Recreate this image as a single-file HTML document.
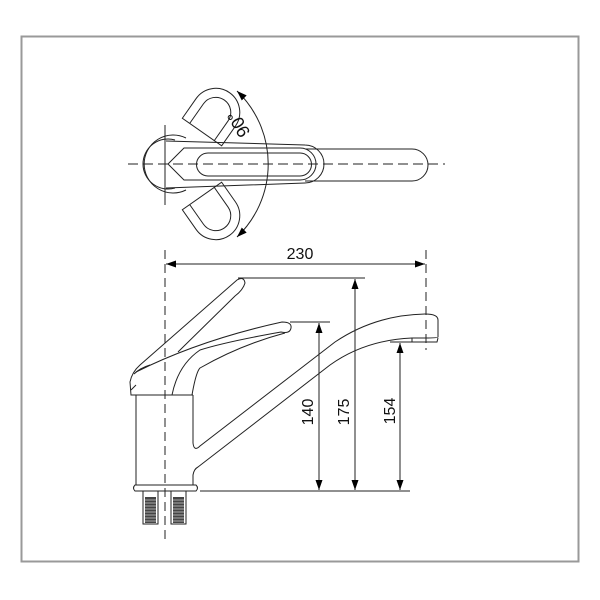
<!DOCTYPE html>
<html><head><meta charset="utf-8"><style>html,body{margin:0;padding:0;background:#fff}svg{display:block}</style></head>
<body>
<svg width="600" height="600" viewBox="0 0 600 600" xmlns="http://www.w3.org/2000/svg">
<defs>
<marker id="a" viewBox="0 0 10 10" refX="10" refY="5" markerWidth="10" markerHeight="10" markerUnits="userSpaceOnUse" orient="auto-start-reverse"><path d="M0,1.5 L10,5 L0,8.5 Z" fill="#000"/></marker>
</defs>
<rect x="21.5" y="36.5" width="557" height="525" fill="none" stroke="#999" stroke-width="2"/>
<g fill="none" stroke="#222" stroke-width="1">
<line x1="128" y1="164" x2="445" y2="164" stroke-dasharray="10,5"/>
<line x1="165" y1="125" x2="165" y2="205"/>
<path d="M186,138 A29,29 0 1 0 186,190"/>
<path d="M175,140 A25,25 0 1 0 175,188"/>
<path d="M166,141 L305,145 A19,19 0 0 1 305,183 L166,188"/>
<path d="M168,164 L184,148 L300,148 A16,16 0 0 1 300,180 L184,180 Z"/>
<path d="M208,153 L300,153 A11,11 0 0 1 300,176 L208,176 A11.5,11.5 0 0 1 208,153 Z"/>
<path d="M305,149 L412,149 A16,16 0 0 1 412,181 L305,181"/>
<g transform="translate(202,132) rotate(-55)">
<path d="M0,-24 L24,-24 A24,24 0 0 1 24,24 L0,24 Z"/>
<path d="M0,-15 L24,-15 A15,15 0 0 1 24,15 L0,15"/>
</g>
<g transform="translate(202,196) rotate(55)">
<path d="M0,-24 L24,-24 A24,24 0 0 1 24,24 L0,24 Z"/>
<path d="M0,-15 L24,-15 A15,15 0 0 1 24,15 L0,15"/>
</g>
<path d="M237,91 A101,101 0 0 1 237,237" marker-start="url(#a)" marker-end="url(#a)"/>
<line x1="165" y1="250" x2="165" y2="540" stroke-dasharray="9,5"/>
<line x1="426" y1="250" x2="426" y2="350" stroke-dasharray="9,5"/>
<line x1="166" y1="264" x2="425" y2="264" marker-start="url(#a)" marker-end="url(#a)"/>
<line x1="238" y1="278" x2="365" y2="278"/>
<line x1="355" y1="279" x2="355" y2="490" marker-start="url(#a)" marker-end="url(#a)"/>
<line x1="290" y1="322" x2="330" y2="322"/>
<line x1="319" y1="323" x2="319" y2="490" marker-start="url(#a)" marker-end="url(#a)"/>
<line x1="390" y1="342" x2="412" y2="342"/>
<line x1="400" y1="343" x2="400" y2="490" marker-start="url(#a)" marker-end="url(#a)"/>
<line x1="200" y1="491" x2="410" y2="491"/>
<path d="M136,395 L136,485"/>
<path d="M193,395 L193,443 Q194,452 200,446 L335,342 Q375,315 425,314 Q438,314 438,320 L438,337 Q438,338 425,338 L412,338 L412,342 L437,342 L438,338"/>
<path d="M193,485 L193,475 Q194,469 198,467 L330,365 Q365,340 412,338"/>
<line x1="136" y1="395" x2="193" y2="395"/>
<path d="M135,485 L196,485 Q199,488 196,491 L135,491 Q132,488 135,485 Z"/>
<rect x="143" y="491" width="15" height="33"/>
<rect x="171" y="491" width="15" height="33"/>
<path d="M136,395 L131,395 L130,382 Q132,372 140,365 L237,280 Q244,276 245,283 Q243,290 235,296 L178,352"/>
<path d="M136,372 Q200,340 282,322 Q292,322 291,328 Q290,334 281,332 Q225,342 200,350 Q178,365 172,395"/>
<path d="M192,395 Q196,372 200,368 Q240,345 285,333"/>
<path d="M131,390 L136,385 M134,374 Q140,368 150,365"/>
</g>
<g fill="#444">
<rect x="145" y="497" width="11" height="26"/>
<rect x="173" y="497" width="11" height="26"/>
</g>
<g stroke="#ccc" stroke-width="0.8">
<path d="M145,500H156M145,503H156M145,506H156M145,509H156M145,512H156M145,515H156M145,518H156M145,521H156M173,500H184M173,503H184M173,506H184M173,509H184M173,512H184M173,515H184M173,518H184M173,521H184"/>
</g>
<g font-family="Liberation Sans, sans-serif" font-size="16" fill="#111">
<text x="300" y="259" text-anchor="middle">230</text>
<text transform="translate(313,412) rotate(-90)" text-anchor="middle">140</text>
<text transform="translate(349,412) rotate(-90)" text-anchor="middle">175</text>
<text transform="translate(395,411) rotate(-90)" text-anchor="middle">154</text>
<text transform="translate(244,121) rotate(240)" text-anchor="middle" font-size="18">90°</text>
</g>
</svg>
</body></html>
